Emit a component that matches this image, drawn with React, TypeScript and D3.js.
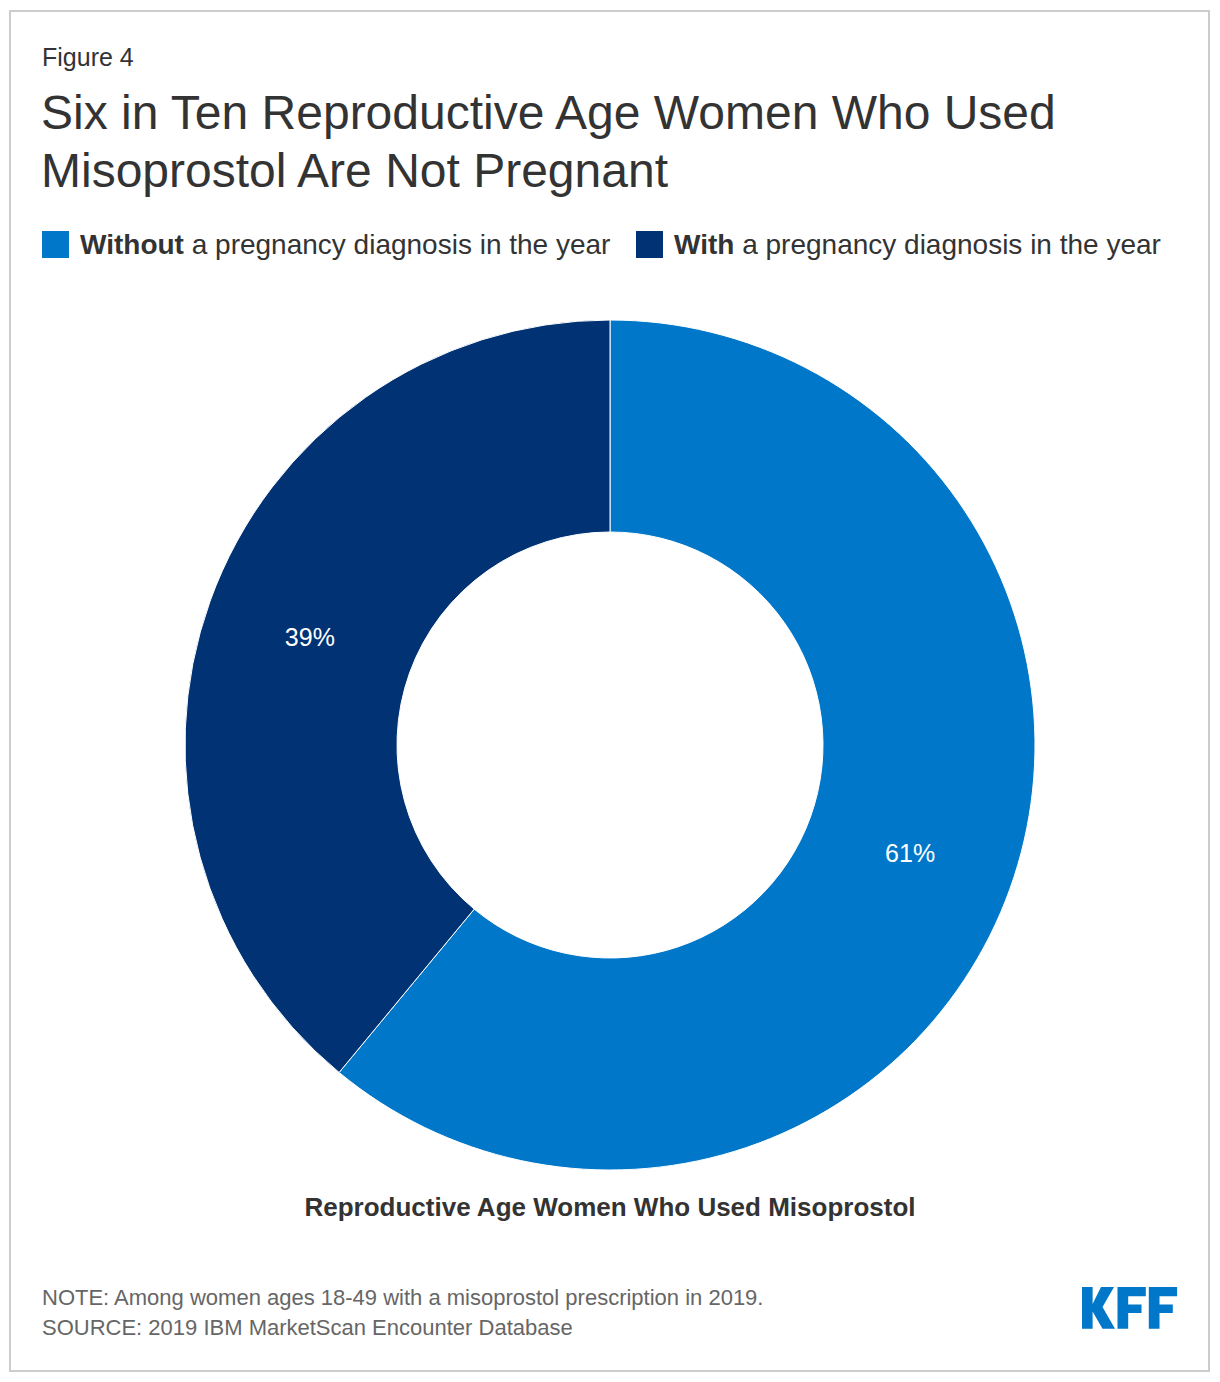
import React from "react";
import * as d3 from "d3";

const categories = ["Without a pregnancy diagnosis in the year", "With a pregnancy diagnosis in the year"];
const legendBold = ["Without", "With"];
const legendRest = [" a pregnancy diagnosis in the year", " a pregnancy diagnosis in the year"];
const values = [61, 39];
const colors = ["#0077C8", "#003274"];

const W = 1220;
const H = 1382;
const FONT = "'Liberation Sans', Arial, Helvetica, sans-serif";

export default function App() {
  const cx = 610;
  const cy = 745;
  const rOuter = 425;
  const rInner = 213;
  const pie = d3.pie<number>().sort(null).value((d) => d)(values);
  const arc = d3.arc<d3.PieArcDatum<number>>().innerRadius(rInner).outerRadius(rOuter);
  const legendX = [42, 636];

  return (
    <svg width={W} height={H} style={{ position: "absolute", left: 0, top: 0, fontFamily: FONT }}>
      <rect x={10} y={11} width={1199} height={1360} fill="#fff" stroke="#ccc" strokeWidth={2} />
      <text x={42} y={66} fontSize={25} fill="#333">Figure 4</text>
      <text x={41} y={129} fontSize={48} fill="#333">Six in Ten Reproductive Age Women Who Used</text>
      <text x={41} y={187} fontSize={48} fill="#333">Misoprostol Are Not Pregnant</text>
      {categories.map((c, i) => (
        <g key={c}>
          <rect x={legendX[i]} y={231} width={27} height={27} fill={colors[i]} />
          <text x={legendX[i] + 38} y={254} fontSize={28} fill="#333">
            <tspan fontWeight="bold">{legendBold[i]}</tspan>
            <tspan>{legendRest[i]}</tspan>
          </text>
        </g>
      ))}
      <g transform={`translate(${cx},${cy})`}>
        {pie.map((p, i) => (
          <path key={i} d={arc(p) || ""} fill={colors[i]} stroke="#fff" strokeWidth={1} />
        ))}
        {pie.map((p, i) => {
          const [lx, ly] = arc.centroid(p);
          return (
            <text key={"l" + i} x={lx} y={ly} dy="0.35em" textAnchor="middle" fontSize={25} fill="#fff">
              {values[i]}%
            </text>
          );
        })}
      </g>
      <text x={610} y={1216} textAnchor="middle" fontSize={26} fontWeight="bold" fill="#333">
        Reproductive Age Women Who Used Misoprostol
      </text>
      <text x={42} y={1305} fontSize={22} fill="#666">NOTE: Among women ages 18-49 with a misoprostol prescription in 2019.</text>
      <text x={42} y={1335} fontSize={22} fill="#666">SOURCE: 2019 IBM MarketScan Encounter Database</text>
      <g transform="translate(1082,1287)" fill="#0077C8">
        <polygon points="0,0 10.6,0 10.6,17 19,0 32,0 20.5,20 33,41.7 20.5,41.7 10.6,24.5 10.6,41.7 0,41.7" />
        <polygon transform="translate(35.5,0)" points="0,0 28.3,0 28.3,9.3 10.7,9.3 10.7,17.5 24,17.5 24,26 10.7,26 10.7,41.7 0,41.7" />
        <polygon transform="translate(66.8,0)" points="0,0 28.3,0 28.3,9.3 10.7,9.3 10.7,17.5 24,17.5 24,26 10.7,26 10.7,41.7 0,41.7" />
      </g>
    </svg>
  );
}
